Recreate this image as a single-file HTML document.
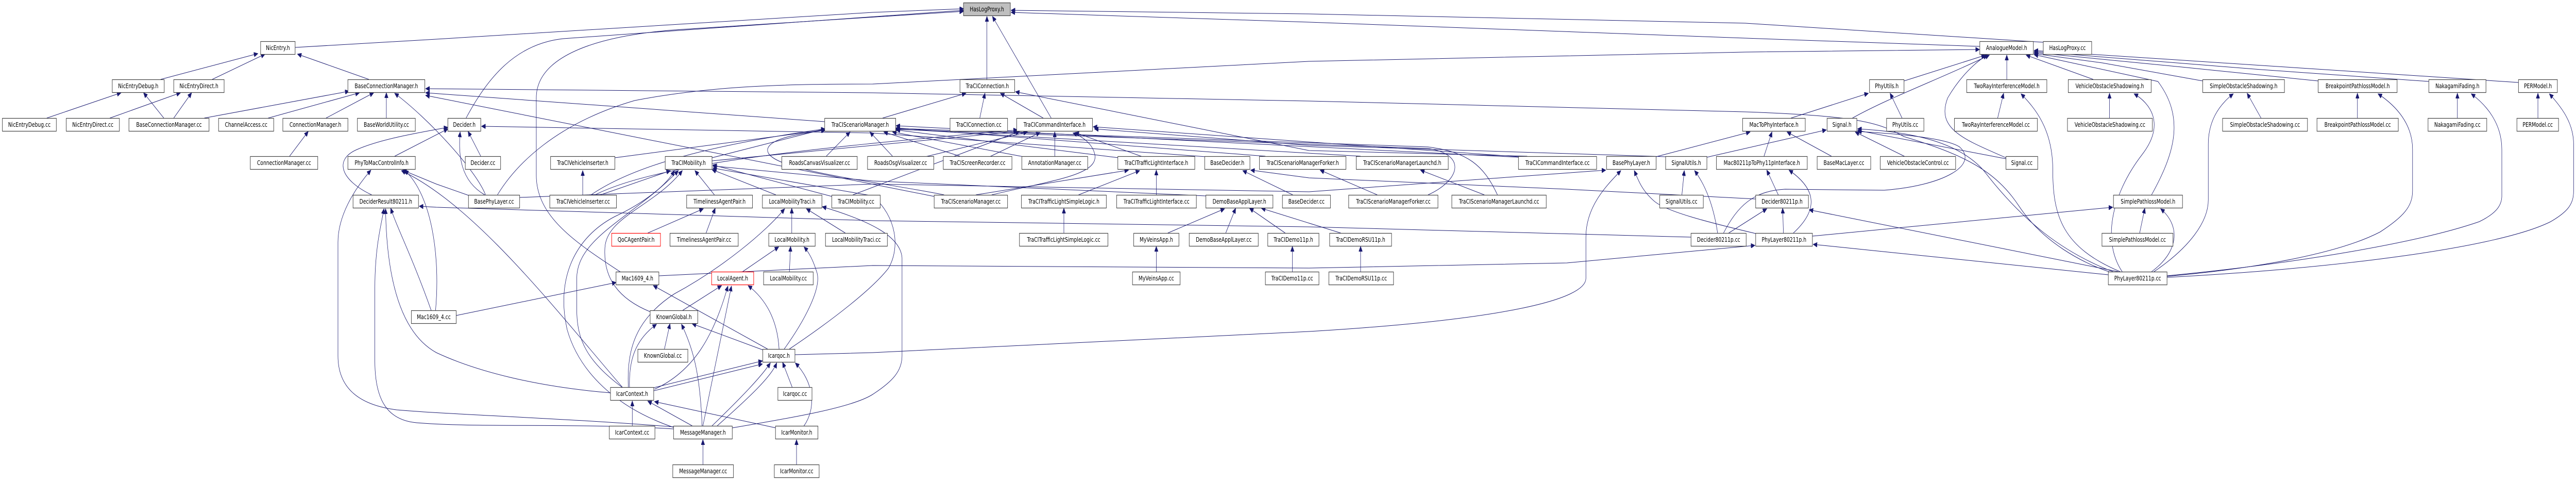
<!DOCTYPE html>
<html><head><meta charset="utf-8"><style>
html,body{margin:0;padding:0;background:#fff;overflow:hidden;width:100vw;height:100vh}
svg{display:block;width:100vw;height:100vh}
text{font-family:"DejaVu Sans","Liberation Sans",sans-serif;font-size:12px;fill:#000;text-anchor:middle}
.n rect{fill:#fff;stroke:#404040;stroke-width:1.2}
.r rect{stroke:#ff0000}
.g rect{fill:#bfbfbf}
path{fill:none;stroke:#191970;stroke-width:1;marker-end:url(#a)}
</style></head><body>
<svg viewBox="0 0 6494 933" preserveAspectRatio="none" xmlns="http://www.w3.org/2000/svg">
<defs><marker id="a" markerUnits="userSpaceOnUse" markerWidth="11" markerHeight="9" refX="10" refY="4.5" orient="auto" viewBox="0 0 11 9"><path d="M0,0 L10,4.5 L0,9 z" style="fill:#191970;stroke:#191970;marker-end:none"/></marker></defs>

<path d="M744,92 L1100,76 L2200,24 L2429,17"/>
<path d="M405,154 L650,104"/>
<path d="M535,154 L668,105"/>
<path d="M930,154 L750,105"/>
<path d="M118,229 L305,180"/>
<path d="M277,229 L455,180"/>
<path d="M413,229 L362,180"/>
<path d="M438,229 L483,180"/>
<path d="M515,229 L880,177"/>
<path d="M676,229 L906,180"/>
<path d="M822,229 L942,180"/>
<path d="M974,229 L974,180"/>
<path d="M730,303 L777,255"/>
<path d="M1224,378 C1200,330 1080,230 995,181"/>
<path d="M995,303 L1129,250"/>
<path d="M937,378 C860,350 840,310 900,290 C960,270 1050,258 1129,247"/>
<path d="M1212,303 L1180,255"/>
<path d="M1222,378 C1160,350 1155,300 1160,256"/>
<path d="M1185,380 L1100,357 L1015,330"/>
<path d="M1570,752 C1400,600 1200,400 1012,331"/>
<path d="M4263,460 L3300,440 L2200,428 L1100,402 L1057,400"/>
<path d="M1087,602 C1040,500 1000,440 985,404"/>
<path d="M1098,602 C1110,500 1090,380 1020,330"/>
<path d="M1150,612 L1553,548"/>
<path d="M1698,828 C1400,810 1150,805 1000,795 C900,785 852,750 852,690 L852,470 C852,420 890,370 935,330"/>
<path d="M1698,832 C1450,820 1200,830 1050,820 C980,815 945,780 945,700 L945,560 C945,480 960,440 968,405"/>
<path d="M1539,762 C1350,750 1200,720 1100,684 C1020,650 975,560 972,405"/>
<path d="M3040,304 L2200,258 L1214,245"/>
<path d="M1175,229 C1230,150 1300,85 1420,75 L2429,20"/>
<path d="M1565,528 C1450,470 1352,420 1352,340 L1352,190 C1352,110 1500,70 1700,58 L2429,22"/>
<path d="M1254,378 C1300,320 1400,240 1600,195 C1800,165 2000,163 2200,163 L3300,119 L4400,101 L4990,96"/>
<path d="M5320,528 C5250,510 5150,470 5090,400 C5030,330 4950,300 4800,265 C4740,240 4700,225 4400,217 L3300,196 L2200,180 L1073,172"/>
<path d="M2079,236 L1073,180"/>
<path d="M2355,381 L1073,185"/>
<path d="M2225,229 L2435,181"/>
<path d="M2470,229 L2483,181"/>
<path d="M2630,229 L2522,181"/>
<path d="M2650,229 L2502,32"/>
<path d="M2488,154 L2488,32"/>
<path d="M3850,303 L3300,292 L2560,178"/>
<path d="M3830,304 L2756,246"/>
<path d="M2083,303 L2143,256"/>
<path d="M2250,303 L2193,256"/>
<path d="M2420,303 L2228,256"/>
<path d="M2495,304 L2622,257"/>
<path d="M2659,303 L2659,256"/>
<path d="M2333,304 L2590,256"/>
<path d="M2580,304 L2250,256"/>
<path d="M2880,304 L2710,257"/>
<path d="M2820,306 L2259,252"/>
<path d="M3190,303 L2259,248"/>
<path d="M3430,303 L2259,250"/>
<path d="M2500,378 C2650,350 2770,340 2760,300 C2755,280 2730,265 2705,258"/>
<path d="M2380,378 C2200,350 1930,330 1935,290 C1940,265 2040,258 2081,252"/>
<path d="M2460,378 L2845,330"/>
<path d="M2719,378 L2873,331"/>
<path d="M2915,378 L2915,330"/>
<path d="M2682,452 L2682,404"/>
<path d="M3259,378 L3133,331"/>
<path d="M4426,386 L3950,367 L3300,345 L3153,330"/>
<path d="M3040,380 L2200,351 L1797,322"/>
<path d="M2944,452 L3087,405"/>
<path d="M3090,452 L3115,404"/>
<path d="M3240,452 L3150,404"/>
<path d="M3380,452 L3180,404"/>
<path d="M2915,527 L2915,478"/>
<path d="M3258,527 L3258,478"/>
<path d="M3430,527 L3430,478"/>
<path d="M3472,378 L3328,330"/>
<path d="M3742,378 L3581,330"/>
<path d="M3600,378 C3680,350 3700,300 3600,288 L2259,251"/>
<path d="M3775,378 C3740,320 3700,295 3600,285 L2259,249"/>
<path d="M3828,305 L2259,244"/>
<path d="M4200,304 L3300,282 L2759,250"/>
<path d="M4175,304 L4412,256"/>
<path d="M4303,305 L4604,252"/>
<path d="M4447,303 L4467,256"/>
<path d="M4617,303 L4505,256"/>
<path d="M4515,229 L4710,181"/>
<path d="M4800,157 L5005,107"/>
<path d="M4670,229 C4760,190 4900,150 5015,107"/>
<path d="M4795,229 L4765,181"/>
<path d="M5059,154 L5059,107"/>
<path d="M5036,229 L5051,181"/>
<path d="M5277,154 L5108,107"/>
<path d="M5318,229 L5318,181"/>
<path d="M4803,304 L4677,256"/>
<path d="M5057,308 L4683,253"/>
<path d="M5057,306 C4950,270 4880,250 4910,190 C4940,150 4980,120 5010,107"/>
<path d="M5330,528 C5200,490 5100,430 5000,330 C4930,270 4800,255 4683,250"/>
<path d="M4345,452 C4380,400 4420,370 4500,367 L4750,369 C4900,360 4990,320 4940,285 C4900,265 4750,258 4683,255"/>
<path d="M4330,452 C4320,400 4300,360 4272,331"/>
<path d="M4240,378 L4246,331"/>
<path d="M4426,453 C4300,430 4200,410 4170,390 C4140,370 4130,350 4120,331"/>
<path d="M4358,452 L4454,405"/>
<path d="M4496,452 L4494,404"/>
<path d="M4483,378 L4454,330"/>
<path d="M4521,452 C4580,410 4585,370 4510,330"/>
<path d="M4569,458 L5326,402"/>
<path d="M5315,533 L4571,474"/>
<path d="M5340,527 L4561,407"/>
<path d="M5345,527 C5200,480 5175,420 5175,330 C5175,250 5130,210 5095,182"/>
<path d="M5350,527 C5300,470 5320,380 5400,300 C5460,240 5420,200 5380,182"/>
<path d="M5424,378 C5480,300 5510,230 5440,158 L5128,106"/>
<path d="M5394,452 L5407,404"/>
<path d="M5424,527 C5490,490 5500,440 5447,405"/>
<path d="M5553,157 L5300,122 L5128,104"/>
<path d="M5844,157 L5500,130 L5128,102"/>
<path d="M6123,158 L5700,135 L5128,100"/>
<path d="M6349,160 L5900,137 L5128,98"/>
<path d="M5700,229 L5665,181"/>
<path d="M5943,229 L5943,181"/>
<path d="M6195,229 L6195,181"/>
<path d="M6398,229 L6398,181"/>
<path d="M5430,527 C5520,480 5567,430 5567,388 L5567,280 C5567,230 5600,200 5630,182"/>
<path d="M5463,536 C5700,520 5900,490 6000,450 C6060,420 6082,400 6082,370 L6082,290 C6082,240 6040,205 5995,182"/>
<path d="M5463,535 C5800,510 6100,470 6250,430 C6290,415 6307,400 6307,380 L6307,290 C6307,240 6270,205 6230,182"/>
<path d="M5463,538 C5900,520 6300,480 6430,430 C6475,410 6488,395 6488,370 L6488,280 C6488,240 6460,210 6427,182"/>
<path d="M5151,82 L4400,45 L3300,27 L2549,20"/>
<path d="M4991,90 L4400,74 L3300,43 L2549,24"/>
<path d="M1550,306 L2080,252"/>
<path d="M1469,378 L1469,331"/>
<path d="M1514,378 L1690,331"/>
<path d="M1490,378 C1600,320 1800,280 2080,250"/>
<path d="M1500,378 C1650,320 2000,290 2565,252"/>
<path d="M1795,306 L2080,250"/>
<path d="M1795,312 L2565,255"/>
<path d="M1801,378 L1752,331"/>
<path d="M1633,452 L1773,405"/>
<path d="M1780,452 L1803,404"/>
<path d="M1956,378 L1795,329"/>
<path d="M2097,381 L1797,320"/>
<path d="M2150,378 L2570,255"/>
<path d="M1996,452 L1996,404"/>
<path d="M2131,452 L2033,405"/>
<path d="M1872,527 L1963,479"/>
<path d="M1990,527 L1993,478"/>
<path d="M1721,602 L1819,554"/>
<path d="M1675,677 L1689,628"/>
<path d="M1924,679 L1745,628"/>
<path d="M1935,677 L1647,554"/>
<path d="M1964,677 C1960,620 1930,580 1886,554"/>
<path d="M1977,677 C2030,620 2070,560 2060,530 C2050,505 2040,490 2027,479"/>
<path d="M1846,830 C2000,810 2150,790 2200,765 C2250,740 2274,720 2274,690 L2274,500 C2270,460 2200,430 2073,401"/>
<path d="M1990,677 C2100,620 2200,560 2240,520 C2270,480 2260,420 2200,380 L1797,326"/>
<path d="M2004,688 L2200,684 L3300,643 C3800,620 3998,580 3998,540 L3998,460 C3998,400 4050,360 4086,331"/>
<path d="M1568,751 C1480,700 1454,660 1454,600 L1454,540 C1454,460 1600,420 1710,331"/>
<path d="M1698,829 C1550,790 1460,720 1430,640 C1400,540 1450,460 1550,420 C1620,395 1680,360 1700,331"/>
<path d="M1640,605 C1560,580 1520,540 1525,480 C1530,420 1650,400 1720,331"/>
<path d="M1584,751 C1580,680 1600,620 1700,570 C1820,520 1930,450 1978,405"/>
<path d="M1650,755 C1750,720 1800,650 1835,555"/>
<path d="M1587,751 C1585,700 1600,660 1655,629"/>
<path d="M1648,752 L1922,700"/>
<path d="M1648,758 L1922,706"/>
<path d="M1594,826 L1594,778"/>
<path d="M1745,826 L1633,778"/>
<path d="M1956,830 L1650,779"/>
<path d="M2026,827 C2060,790 2050,740 2005,704"/>
<path d="M1997,751 L1973,703"/>
<path d="M1772,826 L1844,555"/>
<path d="M1770,826 C1765,730 1750,680 1718,629"/>
<path d="M1795,826 C1870,770 1920,730 1942,704"/>
<path d="M1808,826 C1890,770 1945,730 1958,704"/>
<path d="M1772,901 L1772,853"/>
<path d="M2008,901 L2008,853"/>
<path d="M1661,535 L2200,515 L3300,520 L3950,510 L4424,476"/>
<path d="M1310,383 L2200,357 L3300,372 L4048,330"/>

<g class="n g"><rect x="2429" y="5.5" width="118" height="25"/><text x="2488" y="22">HasLogProxy.h</text></g>
<g class="n"><rect x="657" y="80.5" width="87" height="25"/><text x="700.5" y="97">NicEntry.h</text></g>
<g class="n"><rect x="4991" y="80.5" width="135" height="25"/><text x="5058.5" y="97">AnalogueModel.h</text></g>
<g class="n"><rect x="5151" y="80.5" width="122" height="25"/><text x="5212" y="97">HasLogProxy.cc</text></g>

<g class="n"><rect x="283" y="154.5" width="131" height="25"/><text x="348.5" y="171">NicEntryDebug.h</text></g>
<g class="n"><rect x="438" y="154.5" width="127" height="25"/><text x="501.5" y="171">NicEntryDirect.h</text></g>
<g class="n"><rect x="877" y="154.5" width="194" height="25"/><text x="974" y="171">BaseConnectionManager.h</text></g>
<g class="n"><rect x="2420" y="154.5" width="138" height="25"/><text x="2489" y="171">TraCIConnection.h</text></g>
<g class="n"><rect x="4713" y="154.5" width="87" height="25"/><text x="4756.5" y="171">PhyUtils.h</text></g>
<g class="n"><rect x="4958" y="154.5" width="202" height="25"/><text x="5059" y="171">TwoRayInterferenceModel.h</text></g>
<g class="n"><rect x="5214" y="154.5" width="209" height="25"/><text x="5318.5" y="171">VehicleObstacleShadowing.h</text></g>
<g class="n"><rect x="5553" y="154.5" width="206" height="25"/><text x="5656" y="171">SimpleObstacleShadowing.h</text></g>
<g class="n"><rect x="5844" y="154.5" width="199" height="25"/><text x="5943.5" y="171">BreakpointPathlossModel.h</text></g>
<g class="n"><rect x="6123" y="154.5" width="144" height="25"/><text x="6195" y="171">NakagamiFading.h</text></g>
<g class="n"><rect x="6349" y="154.5" width="98" height="25"/><text x="6398" y="171">PERModel.h</text></g>

<g class="n"><rect x="6" y="229.5" width="136" height="25"/><text x="74" y="246">NicEntryDebug.cc</text></g>
<g class="n"><rect x="167" y="229.5" width="134" height="25"/><text x="234" y="246">NicEntryDirect.cc</text></g>
<g class="n"><rect x="325" y="229.5" width="202" height="25"/><text x="426" y="246">BaseConnectionManager.cc</text></g>
<g class="n"><rect x="551" y="229.5" width="139" height="25"/><text x="620.5" y="246">ChannelAccess.cc</text></g>
<g class="n"><rect x="713" y="229.5" width="164" height="25"/><text x="795" y="246">ConnectionManager.h</text></g>
<g class="n"><rect x="901" y="229.5" width="146" height="25"/><text x="974" y="246">BaseWorldUtility.cc</text></g>
<g class="n"><rect x="1129" y="229.5" width="83" height="25"/><text x="1170.5" y="246">Decider.h</text></g>
<g class="n"><rect x="2079" y="229.5" width="179" height="25"/><text x="2168.5" y="246">TraCIScenarioManager.h</text></g>
<g class="n"><rect x="2395" y="229.5" width="145" height="25"/><text x="2467.5" y="246">TraCIConnection.cc</text></g>
<g class="n"><rect x="2563" y="229.5" width="191" height="25"/><text x="2658.5" y="246">TraCICommandInterface.h</text></g>
<g class="n"><rect x="4393" y="229.5" width="158" height="25"/><text x="4472" y="246">MacToPhyInterface.h</text></g>
<g class="n"><rect x="4606" y="229.5" width="75" height="25"/><text x="4643.5" y="246">Signal.h</text></g>
<g class="n"><rect x="4756" y="229.5" width="94" height="25"/><text x="4803" y="246">PhyUtils.cc</text></g>
<g class="n"><rect x="4927" y="229.5" width="209" height="25"/><text x="5031.5" y="246">TwoRayInterferenceModel.cc</text></g>
<g class="n"><rect x="5212" y="229.5" width="214" height="25"/><text x="5319" y="246">VehicleObstacleShadowing.cc</text></g>
<g class="n"><rect x="5603" y="229.5" width="214" height="25"/><text x="5710" y="246">SimpleObstacleShadowing.cc</text></g>
<g class="n"><rect x="5841" y="229.5" width="205" height="25"/><text x="5943.5" y="246">BreakpointPathlossModel.cc</text></g>
<g class="n"><rect x="6121" y="229.5" width="148" height="25"/><text x="6195" y="246">NakagamiFading.cc</text></g>
<g class="n"><rect x="6345" y="229.5" width="105" height="25"/><text x="6397.5" y="246">PERModel.cc</text></g>

<g class="n"><rect x="631" y="303.5" width="170" height="25"/><text x="716" y="320">ConnectionManager.cc</text></g>
<g class="n"><rect x="877" y="303.5" width="170" height="25"/><text x="962" y="320">PhyToMacControlInfo.h</text></g>
<g class="n"><rect x="1173" y="303.5" width="89" height="25"/><text x="1217.5" y="320">Decider.cc</text></g>
<g class="n"><rect x="1388" y="303.5" width="162" height="25"/><text x="1469" y="320">TraCIVehicleInserter.h</text></g>
<g class="n"><rect x="1677" y="303.5" width="118" height="25"/><text x="1736" y="320">TraCIMobility.h</text></g>
<g class="n"><rect x="1971" y="303.5" width="190" height="25"/><text x="2066" y="320">RoadsCanvasVisualizer.cc</text></g>
<g class="n"><rect x="2187" y="303.5" width="167" height="25"/><text x="2270.5" y="320">RoadsOsgVisualizer.cc</text></g>
<g class="n"><rect x="2378" y="303.5" width="173" height="25"/><text x="2464.5" y="320">TraCIScreenRecorder.cc</text></g>
<g class="n"><rect x="2576" y="303.5" width="166" height="25"/><text x="2659" y="320">AnnotationManager.cc</text></g>
<g class="n"><rect x="2818" y="303.5" width="194" height="25"/><text x="2915" y="320">TraCITrafficLightInterface.h</text></g>
<g class="n"><rect x="3037" y="303.5" width="114" height="25"/><text x="3094" y="320">BaseDecider.h</text></g>
<g class="n"><rect x="3175" y="303.5" width="218" height="25"/><text x="3284" y="320">TraCIScenarioManagerForker.h</text></g>
<g class="n"><rect x="3419" y="303.5" width="232" height="25"/><text x="3535" y="320">TraCIScenarioManagerLaunchd.h</text></g>
<g class="n"><rect x="3828" y="303.5" width="197" height="25"/><text x="3926.5" y="320">TraCICommandInterface.cc</text></g>
<g class="n"><rect x="4050" y="303.5" width="125" height="25"/><text x="4112.5" y="320">BasePhyLayer.h</text></g>
<g class="n"><rect x="4199" y="303.5" width="104" height="25"/><text x="4251" y="320">SignalUtils.h</text></g>
<g class="n"><rect x="4327" y="303.5" width="229" height="25"/><text x="4441.5" y="320">Mac80211pToPhy11pInterface.h</text></g>
<g class="n"><rect x="4581" y="303.5" width="135" height="25"/><text x="4648.5" y="320">BaseMacLayer.cc</text></g>
<g class="n"><rect x="4740" y="303.5" width="190" height="25"/><text x="4835" y="320">VehicleObstacleControl.cc</text></g>
<g class="n"><rect x="5057" y="303.5" width="80" height="25"/><text x="5097" y="320">Signal.cc</text></g>

<g class="n"><rect x="890" y="378.5" width="165" height="25"/><text x="972.5" y="395">DeciderResult80211.h</text></g>
<g class="n"><rect x="1181" y="378.5" width="129" height="25"/><text x="1245.5" y="395">BasePhyLayer.cc</text></g>
<g class="n"><rect x="1386" y="378.5" width="168" height="25"/><text x="1470" y="395">TraCIVehicleInserter.cc</text></g>
<g class="n"><rect x="1731" y="378.5" width="166" height="25"/><text x="1814" y="395">TimelinessAgentPair.h</text></g>
<g class="n"><rect x="1922" y="378.5" width="150" height="25"/><text x="1997" y="395">LocalMobilityTraci.h</text></g>
<g class="n"><rect x="2097" y="378.5" width="122" height="25"/><text x="2158" y="395">TraCIMobility.cc</text></g>
<g class="n"><rect x="2355" y="378.5" width="185" height="25"/><text x="2447.5" y="395">TraCIScenarioManager.cc</text></g>
<g class="n"><rect x="2575" y="378.5" width="214" height="25"/><text x="2682" y="395">TraCITrafficLightSimpleLogic.h</text></g>
<g class="n"><rect x="2815" y="378.5" width="201" height="25"/><text x="2915.5" y="395">TraCITrafficLightInterface.cc</text></g>
<g class="n"><rect x="3040" y="378.5" width="169" height="25"/><text x="3124.5" y="395">DemoBaseApplLayer.h</text></g>
<g class="n"><rect x="3233" y="378.5" width="121" height="25"/><text x="3293.5" y="395">BaseDecider.cc</text></g>
<g class="n"><rect x="3400" y="378.5" width="225" height="25"/><text x="3512.5" y="395">TraCIScenarioManagerForker.cc</text></g>
<g class="n"><rect x="3660" y="378.5" width="238" height="25"/><text x="3779" y="395">TraCIScenarioManagerLaunchd.cc</text></g>
<g class="n"><rect x="4184" y="378.5" width="110" height="25"/><text x="4239" y="395">SignalUtils.cc</text></g>
<g class="n"><rect x="4426" y="378.5" width="133" height="25"/><text x="4492.5" y="395">Decider80211p.h</text></g>
<g class="n"><rect x="5328" y="378.5" width="174" height="25"/><text x="5415" y="395">SimplePathlossModel.h</text></g>

<g class="n r"><rect x="1542" y="452.5" width="123" height="25"/><text x="1603.5" y="469">QoCAgentPair.h</text></g>
<g class="n"><rect x="1689" y="452.5" width="172" height="25"/><text x="1775" y="469">TimelinessAgentPair.cc</text></g>
<g class="n"><rect x="1938" y="452.5" width="117" height="25"/><text x="1996.5" y="469">LocalMobility.h</text></g>
<g class="n"><rect x="2081" y="452.5" width="156" height="25"/><text x="2159" y="469">LocalMobilityTraci.cc</text></g>
<g class="n"><rect x="2570" y="452.5" width="223" height="25"/><text x="2681.5" y="469">TraCITrafficLightSimpleLogic.cc</text></g>
<g class="n"><rect x="2858" y="452.5" width="114" height="25"/><text x="2915" y="469">MyVeinsApp.h</text></g>
<g class="n"><rect x="2998" y="452.5" width="174" height="25"/><text x="3085" y="469">DemoBaseApplLayer.cc</text></g>
<g class="n"><rect x="3196" y="452.5" width="129" height="25"/><text x="3260.5" y="469">TraCIDemo11p.h</text></g>
<g class="n"><rect x="3352" y="452.5" width="156" height="25"/><text x="3430" y="469">TraCIDemoRSU11p.h</text></g>
<g class="n"><rect x="4263" y="452.5" width="139" height="25"/><text x="4332.5" y="469">Decider80211p.cc</text></g>
<g class="n"><rect x="4426" y="452.5" width="143" height="25"/><text x="4497.5" y="469">PhyLayer80211p.h</text></g>
<g class="n"><rect x="5299" y="452.5" width="179" height="25"/><text x="5388.5" y="469">SimplePathlossModel.cc</text></g>

<g class="n"><rect x="1553" y="527.5" width="108" height="25"/><text x="1607" y="544">Mac1609_4.h</text></g>
<g class="n r"><rect x="1794" y="527.5" width="106" height="25"/><text x="1847" y="544">LocalAgent.h</text></g>
<g class="n"><rect x="1925" y="527.5" width="125" height="25"/><text x="1987.5" y="544">LocalMobility.cc</text></g>
<g class="n"><rect x="2855" y="527.5" width="120" height="25"/><text x="2915" y="544">MyVeinsApp.cc</text></g>
<g class="n"><rect x="3190" y="527.5" width="135" height="25"/><text x="3257.5" y="544">TraCIDemo11p.cc</text></g>
<g class="n"><rect x="3350" y="527.5" width="163" height="25"/><text x="3431.5" y="544">TraCIDemoRSU11p.cc</text></g>
<g class="n"><rect x="5315" y="527.5" width="148" height="25"/><text x="5389" y="544">PhyLayer80211p.cc</text></g>

<g class="n"><rect x="1037" y="602.5" width="113" height="25"/><text x="1093.5" y="619">Mac1609_4.cc</text></g>
<g class="n"><rect x="1639" y="602.5" width="120" height="25"/><text x="1699" y="619">KnownGlobal.h</text></g>

<g class="n"><rect x="1608" y="677.5" width="126" height="25"/><text x="1671" y="694">KnownGlobal.cc</text></g>
<g class="n"><rect x="1923" y="677.5" width="81" height="25"/><text x="1963.5" y="694">Icarqoc.h</text></g>

<g class="n"><rect x="1539" y="751.5" width="109" height="25"/><text x="1593.5" y="768">IcarContext.h</text></g>
<g class="n"><rect x="1961" y="751.5" width="86" height="25"/><text x="2004" y="768">Icarqoc.cc</text></g>

<g class="n"><rect x="1536" y="826.5" width="115" height="25"/><text x="1593.5" y="843">IcarContext.cc</text></g>
<g class="n"><rect x="1698" y="826.5" width="148" height="25"/><text x="1772" y="843">MessageManager.h</text></g>
<g class="n"><rect x="1955" y="826.5" width="107" height="25"/><text x="2008.5" y="843">IcarMonitor.h</text></g>

<g class="n"><rect x="1696" y="901.5" width="153" height="25"/><text x="1772.5" y="918">MessageManager.cc</text></g>
<g class="n"><rect x="1952" y="901.5" width="113" height="25"/><text x="2008.5" y="918">IcarMonitor.cc</text></g>
</svg>
</body></html>
